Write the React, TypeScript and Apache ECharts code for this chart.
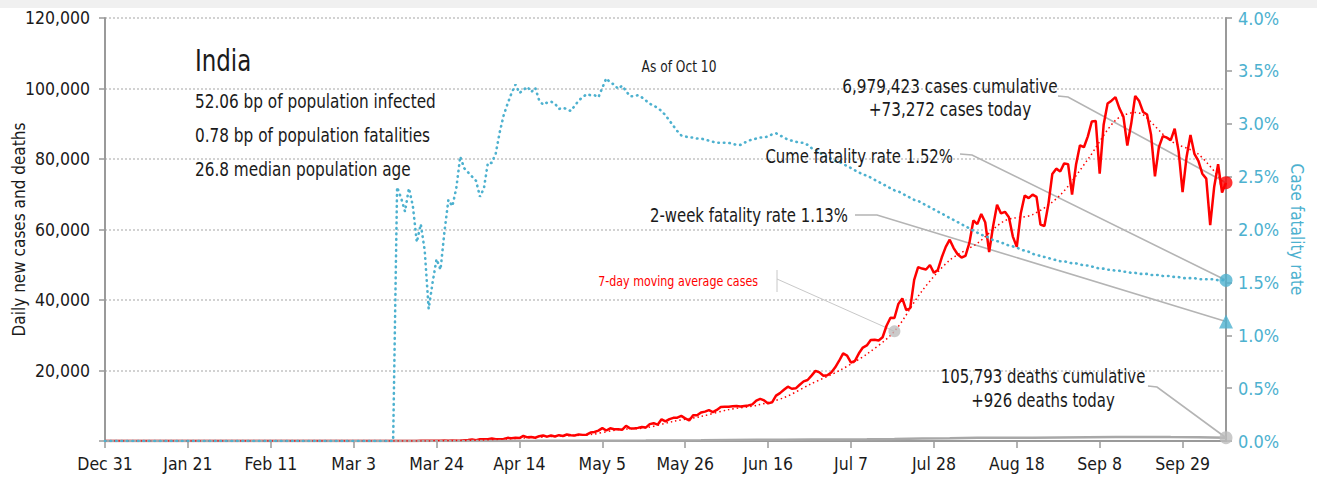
import React, { useEffect, useRef } from 'react';
import * as echarts from 'echarts';

const FONT = "'Liberation Sans Narrow', 'Arial Narrow', 'DejaVu Sans Condensed', sans-serif";
const MONTHS = ['Jan', 'Feb', 'Mar', 'Apr', 'May', 'Jun', 'Jul', 'Aug', 'Sep', 'Oct', 'Nov', 'Dec'];
const DAY_COUNT = 285; // Dec 31, 2019 .. Oct 10, 2020
const dates: string[] = [];
for (let i = 0; i < DAY_COUNT; i++) {
  const d = new Date(2019, 11, 31 + i);
  dates.push(`${MONTHS[d.getMonth()]} ${d.getDate()}`);
}

const xTickLabels = ['Dec 31', 'Jan 21', 'Feb 11', 'Mar 3', 'Mar 24', 'Apr 14', 'May 5', 'May 26', 'Jun 16', 'Jul 7', 'Jul 28', 'Aug 18', 'Sep 8', 'Sep 29'];

// Daily new cases
const casesLeadDates = ['Dec 31'];
const casesLeadValues = [0];
const casesStart = 'Mar 1';
const dailyCases = [
  // Mar
  0, 0, 2, 1, 22, 2, 1, 3, 5, 4, 13, 6, 11, 9, 20, 11, 6, 23, 14, 38, 50, 86, 66, 103, 37, 121, 70, 160, 100, 82, 220,
  // Apr
  320, 437, 235, 478, 525, 505, 704, 508, 485, 591, 896, 768, 918, 826, 1463, 1035, 1106, 922, 1371, 1580, 1239, 1537, 1292, 1667, 1408, 1835, 1607, 1561, 1873, 1738,
  // May
  1801, 2396, 2564, 2952, 3656, 2971, 3602, 3344, 3339, 3175, 4311, 3592, 3562, 3726, 3991, 3808, 4794, 5050, 4630, 6147, 5553, 6198, 6568, 6629, 7111, 6414, 5843, 7293, 7300, 8105, 8336,
  // Jun
  8782, 8200, 8821, 9633, 9700, 9750, 9850, 9900, 9800, 9950, 10100, 10400, 11458, 11929, 11502, 10667, 10974, 12881, 13586, 14516, 15413, 14821, 14933, 15968, 16922, 17296, 18552, 19906, 19459, 18522,
  // Jul
  18653, 19429, 20903, 22771, 24850, 24248, 22252, 22752, 24879, 26506, 27114, 28637, 28701, 28498, 29429, 32695, 34956, 34884, 38902, 40425, 37148, 37724, 45720, 49310, 48916, 48661, 49931, 47703, 48513, 52123, 55079,
  // Aug
  57118, 54735, 52972, 52050, 52509, 56282, 62538, 61537, 64399, 62064, 53601, 60963, 66999, 64553, 65002, 63490, 57981, 55079, 64531, 69652, 68898, 69878, 69239, 61408, 60975, 67151, 75760, 77266, 76472, 78761, 78512,
  // Sep
  69921, 78357, 83883, 83341, 86432, 90632, 90802, 75809, 89706, 95735, 96551, 97570, 94372, 92071, 83809, 90123, 97894, 96424, 93337, 92605, 86961, 75083, 83347, 86508, 86052, 85362, 88600, 82170, 70589, 80472,
  // Oct
  86821, 81484, 79476, 75829, 74442, 61267, 72049, 78524, 70496, 73272,
];

// 7-day moving average of cases
const maDates = ['Dec 31', 'Mar 1', 'Mar 7', 'Mar 14', 'Mar 21', 'Mar 28', 'Apr 4', 'Apr 11', 'Apr 18', 'Apr 25', 'May 2', 'May 9', 'May 16', 'May 23', 'May 30', 'Jun 6', 'Jun 13', 'Jun 20', 'Jun 27', 'Jul 4', 'Jul 11', 'Jul 18', 'Jul 25', 'Aug 1', 'Aug 8', 'Aug 15', 'Aug 22', 'Aug 29', 'Sep 5', 'Sep 12', 'Sep 17', 'Sep 19', 'Sep 26', 'Oct 3', 'Oct 10'];
const maValues = [0, 0, 4, 7, 23, 92, 267, 602, 1005, 1442, 1830, 3204, 3738, 5563, 6956, 8900, 10100, 12294, 16272, 19949, 24657, 31114, 42592, 51304, 56089, 62512, 64216, 69753, 79887, 90972, 93199, 92576, 85131, 81373, 72268];

// Daily new deaths
const deathDates = ['Dec 31', 'Mar 14', 'Mar 28', 'Apr 4', 'Apr 11', 'Apr 18', 'Apr 25', 'May 2', 'May 9', 'May 16', 'May 23', 'May 30', 'Jun 6', 'Jun 13', 'Jun 20', 'Jun 27', 'Jul 4', 'Jul 11', 'Jul 18', 'Jul 25', 'Aug 1', 'Aug 8', 'Aug 15', 'Aug 22', 'Aug 29', 'Sep 5', 'Sep 12', 'Sep 19', 'Sep 26', 'Oct 3', 'Oct 10'];
const deathValues = [0, 0, 4, 15, 35, 40, 55, 70, 100, 110, 140, 190, 280, 390, 370, 400, 440, 500, 600, 720, 790, 900, 950, 950, 1000, 1070, 1150, 1170, 1100, 1080, 926];

// Cumulative case fatality rate (%)
const cfrLeadDates = ['Dec 31', 'Mar 13'];
const cfrLeadValues = [0, 0];
const cfrStart = 'Mar 14';
const cfrValues = [
  2.40, 2.30, 2.17, 2.39, 2.22, 1.88, 2.05, 1.80, 1.25, 1.50,
  1.72, 1.62, 1.98, 2.28, 2.22, 2.39, 2.69, 2.58, 2.54, 2.50,
  2.46, 2.31, 2.39, 2.63, 2.63, 2.72, 2.92, 3.08, 3.19, 3.29,
  3.37, 3.29, 3.32, 3.35, 3.30, 3.34, 3.22, 3.18, 3.20, 3.21,
  3.19, 3.14, 3.15, 3.14, 3.12, 3.17, 3.22, 3.25, 3.28, 3.27,
  3.27, 3.25, 3.34, 3.43, 3.39, 3.37, 3.33, 3.36, 3.31, 3.26,
  3.26, 3.27, 3.25, 3.22, 3.19, 3.17, 3.15, 3.12, 3.08, 3.03,
  2.98, 2.93, 2.89, 2.88, 2.87, 2.87, 2.86, 2.86, 2.85, 2.84,
  2.83, 2.82, 2.82, 2.82, 2.82, 2.81, 2.80, 2.80, 2.82, 2.84,
  2.85, 2.86, 2.87, 2.87, 2.88, 2.90, 2.91, 2.89, 2.87, 2.85,
  2.84, 2.83, 2.82, 2.82, 2.80, 2.77, 2.75, 2.73, 2.70, 2.68,
  2.67, 2.65, 2.64, 2.62, 2.60, 2.58, 2.56, 2.54, 2.52, 2.51,
  2.49, 2.47, 2.45, 2.43, 2.41, 2.39, 2.37, 2.36, 2.34, 2.32,
  2.30, 2.28, 2.27, 2.25, 2.23, 2.21, 2.19, 2.17, 2.15, 2.13,
  2.11, 2.09, 2.07, 2.05, 2.03, 2.01, 1.99, 1.97, 1.95, 1.94,
  1.92, 1.90, 1.89, 1.88, 1.86, 1.85, 1.84, 1.83, 1.81, 1.80,
  1.79, 1.77, 1.76, 1.75, 1.74, 1.73, 1.72, 1.71, 1.70, 1.70,
  1.69, 1.68, 1.68, 1.67, 1.66, 1.66, 1.65, 1.64, 1.63, 1.63,
  1.62, 1.62, 1.61, 1.61, 1.60, 1.60, 1.59, 1.59, 1.58, 1.58,
  1.58, 1.57, 1.57, 1.57, 1.56, 1.56, 1.56, 1.55, 1.55, 1.54,
  1.54, 1.54, 1.54, 1.53, 1.53, 1.53, 1.53, 1.53, 1.52, 1.52,
  1.52,
];

const lastDate = 'Oct 10';
const casesToday = 73272;
const deathsToday = 926;
const cumeCfr = 1.52;
const twoWeekCfr = 1.13;
const maMarkDate = 'Jul 18';
const maMarkValue = 31114;

const RED = '#ff0000';
const BLUE = '#4db1cf';
const GREY_MARK = '#bdbdbd';
const LEADER = '#b4b4b4';
const NARROW = 0.85;

function pairs(ds: string[], vs: number[]) {
  return ds.map((d, i) => [dates.indexOf(d), vs[i]]);
}
function run(startLabel: string, vs: number[]) {
  const s = dates.indexOf(startLabel);
  return vs.map((v, i) => [s + i, v]);
}

export default function App() {
  const ref = useRef<HTMLDivElement>(null);
  useEffect(() => {
    document.body.style.margin = '0';
    if (!ref.current) return;
    const chart = echarts.init(ref.current, undefined, { renderer: 'svg' });
    const lastIdx = dates.indexOf(lastDate);
    const isTick = (idx: number, val: string) => xTickLabels.includes(val);
    const textBase = { fontFamily: FONT, fill: '#1a1a1a' };

    const option: any = {
      animation: false,
      backgroundColor: '#ffffff',
      grid: { left: 105, right: 91, top: 18, bottom: 39, containLabel: false, outerBoundsMode: 'none' },
      xAxis: {
        type: 'category',
        data: dates,
        boundaryGap: false,
        axisLine: { lineStyle: { color: '#9a9a9a', width: 2 } },
        axisTick: { show: true, interval: isTick, length: 7, lineStyle: { color: '#9a9a9a', width: 1.5 } },
        axisLabel: { interval: isTick, color: '#1a1a1a', fontFamily: FONT, fontSize: 17.5, margin: 14 },
        splitLine: { show: false },
      },
      yAxis: [
        {
          type: 'value', min: 0, max: 120000, interval: 20000,
          name: 'Daily new cases and deaths', nameLocation: 'middle', nameRotate: 90, nameGap: 78,
          nameMoveOverlap: false,
          nameTextStyle: { fontFamily: FONT, fontSize: 17, color: '#1a1a1a' },
          axisLine: { show: true, lineStyle: { color: '#9a9a9a', width: 2 } },
          axisTick: { show: true, length: 6, lineStyle: { color: '#9a9a9a', width: 1.5 } },
          axisLabel: {
            formatter: (v: number) => (v === 0 ? '' : v.toLocaleString('en-US')),
            color: '#1a1a1a', fontFamily: FONT, fontSize: 17.5, margin: 15,
          },
          splitLine: { show: true, lineStyle: { color: '#c4c4c4', width: 1.5, type: [2, 2] } },
        },
        {
          type: 'value', min: 0, max: 4, interval: 0.5, position: 'right',
          name: 'Case fatality rate', nameLocation: 'middle', nameRotate: -90, nameGap: 62,
          nameMoveOverlap: false,
          nameTextStyle: { fontFamily: FONT, fontSize: 17, color: BLUE },
          axisLine: { show: true, lineStyle: { color: '#9a9a9a', width: 2 } },
          axisTick: { show: true, length: 6, lineStyle: { color: '#9a9a9a', width: 1.5 } },
          axisLabel: { formatter: (v: number) => v.toFixed(1) + '%', color: BLUE, fontFamily: FONT, fontSize: 18, margin: 12 },
          splitLine: { show: false },
        },
      ],
      series: [
        {
          name: 'Daily cases', type: 'line', yAxisIndex: 0, showSymbol: false, z: 3,
          data: [...pairs(casesLeadDates, casesLeadValues), ...run(casesStart, dailyCases)],
          lineStyle: { color: RED, width: 2.5 },
        },
        {
          name: '7-day moving average cases', type: 'line', yAxisIndex: 0, showSymbol: false, smooth: 0.3, z: 4,
          data: pairs(maDates, maValues),
          lineStyle: { color: RED, width: 1.5, type: [1.5, 3] },
        },
        {
          name: 'Daily deaths', type: 'line', yAxisIndex: 0, showSymbol: false, z: 3,
          data: pairs(deathDates, deathValues),
          lineStyle: { color: '#a8a8a8', width: 2.5 },
        },
        {
          name: 'Cume fatality rate', type: 'line', yAxisIndex: 1, showSymbol: false, z: 5,
          data: [...pairs(cfrLeadDates, cfrLeadValues), ...run(cfrStart, cfrValues)],
          lineStyle: { color: BLUE, width: 2.6, type: [0.5, 5], cap: 'round' },
        },
        {
          type: 'scatter', yAxisIndex: 0, symbol: 'circle', symbolSize: 13, z: 10,
          itemStyle: { color: RED }, data: [[lastIdx, casesToday]],
        },
        {
          type: 'scatter', yAxisIndex: 0, symbol: 'circle', symbolSize: 13, z: 10,
          itemStyle: { color: GREY_MARK }, data: [[lastIdx, deathsToday]],
        },
        {
          type: 'scatter', yAxisIndex: 1, symbol: 'circle', symbolSize: 13, z: 10,
          itemStyle: { color: BLUE }, data: [[lastIdx, cumeCfr]],
        },
        {
          type: 'scatter', yAxisIndex: 1, symbol: 'triangle', symbolSize: 14, z: 10,
          itemStyle: { color: BLUE }, data: [[lastIdx, twoWeekCfr]],
        },
        {
          type: 'scatter', yAxisIndex: 0, symbol: 'circle', symbolSize: 12, z: 10,
          itemStyle: { color: GREY_MARK }, data: [[dates.indexOf(maMarkDate), maMarkValue]],
        },
      ],
    };
    chart.setOption(option);

    const pCases = chart.convertToPixel({ seriesIndex: 4 }, [lastIdx, casesToday]) as number[];
    const pDeaths = chart.convertToPixel({ seriesIndex: 5 }, [lastIdx, deathsToday]) as number[];
    const pCume = chart.convertToPixel({ seriesIndex: 6 }, [lastIdx, cumeCfr]) as number[];
    const pTwo = chart.convertToPixel({ seriesIndex: 7 }, [lastIdx, twoWeekCfr]) as number[];
    const pMa = chart.convertToPixel({ seriesIndex: 8 }, [dates.indexOf(maMarkDate), maMarkValue]) as number[];

    const leader = (pts: number[][], w = 1.6, c = LEADER) => ({
      type: 'polyline', silent: true, z: 1, shape: { points: pts }, style: { stroke: c, lineWidth: w, fill: null },
    });
    const txt = (x: number, y: number, text: string, size: number, align: string, extra: any = {}) => ({
      type: 'text', x, y, z: 20, scaleX: NARROW,
      style: { ...textBase, text, fontSize: size, align, verticalAlign: 'middle', ...extra },
    });

    chart.setOption({
      graphic: [
        { type: 'rect', shape: { x: 0, y: 0, width: 1317, height: 8 }, style: { fill: '#f0f0f0' }, silent: true },
        leader([[1058, 96], [1068, 97], pCases]),
        leader([[960, 154], [972, 155], pCume]),
        leader([[855, 215], [877, 215], pTwo]),
        leader([[1148, 386], [1157, 387], pDeaths]),
        { type: 'line', silent: true, shape: { x1: 777, y1: 270, x2: 777, y2: 292 }, style: { stroke: '#c8c8c8', lineWidth: 1 } },
        leader([[777, 279], pMa], 1, '#c8c8c8'),
        txt(195, 61, 'India', 30, 'left'),
        txt(195, 101, '52.06 bp of population infected', 20, 'left'),
        txt(195, 135, '0.78 bp of population fatalities', 20, 'left'),
        txt(195, 169, '26.8 median population age', 20, 'left'),
        txt(679, 66, 'As of Oct 10', 16, 'center'),
        txt(950, 86, '6,979,423 cases cumulative', 20, 'center'),
        txt(950, 109, '+73,272 cases today', 20, 'center'),
        txt(953, 156, 'Cume fatality rate 1.52%', 19.5, 'right'),
        txt(848, 215, '2-week fatality rate 1.13%', 19.5, 'right'),
        txt(758, 281, '7-day moving average cases', 14.5, 'right', { fill: RED }),
        txt(1043, 376, '105,793 deaths cumulative', 19.5, 'center'),
        txt(1043, 400, '+926 deaths today', 19.5, 'center'),
      ],
    });

    return () => chart.dispose();
  }, []);
  return <div ref={ref} style={{ width: 1317, height: 480 }} />;
}
